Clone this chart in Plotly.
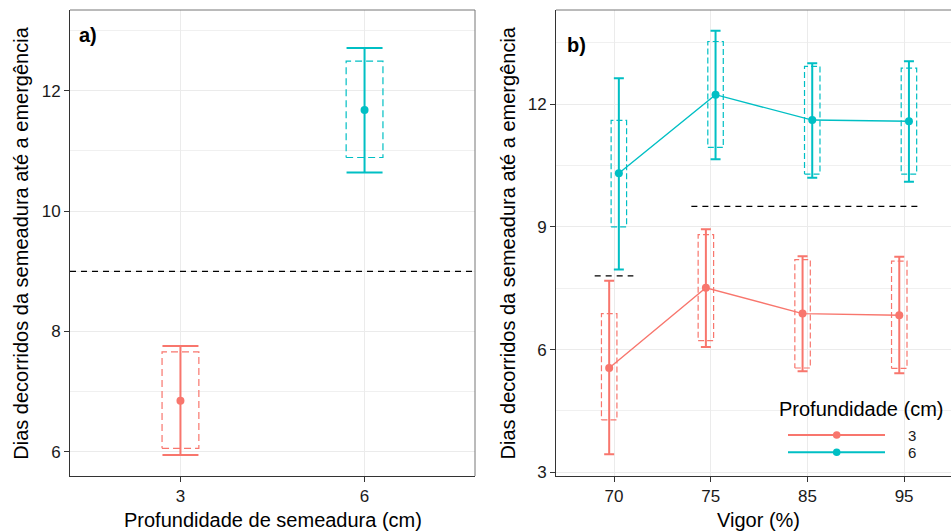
import plotly.graph_objects as go

# ---------------- data ----------------
# Panel a: depth effect
depth_labels = ["3", "6"]
a_mean = [6.85, 11.68]
a_err_hi = [7.76, 12.71]     # error bar upper
a_err_lo = [5.95, 10.64]     # error bar lower
a_box_hi = [7.66, 12.49]     # dashed box upper
a_box_lo = [6.06, 10.89]     # dashed box lower
a_ref_line = 9.0

# Panel b: vigor x depth
vigor_labels = ["70", "75", "85", "95"]
b3_mean = [5.55, 7.51, 6.88, 6.84]
b3_err_hi = [7.68, 8.94, 8.28, 8.27]
b3_err_lo = [3.44, 6.06, 5.47, 5.42]
b3_box_hi = [6.88, 8.81, 8.20, 8.16]
b3_box_lo = [4.28, 6.22, 5.55, 5.54]

b6_mean = [10.31, 12.23, 11.61, 11.58]
b6_err_hi = [12.63, 13.79, 13.00, 13.05]
b6_err_lo = [7.96, 10.65, 10.20, 10.10]
b6_box_hi = [11.60, 13.53, 12.92, 12.88]
b6_box_lo = [9.00, 10.94, 10.29, 10.29]

# significance dashed segments in panel b: (x start, x end, y) in category units
b_ref_segments = [(-0.2, 0.2, 7.8), (0.8, 3.15, 9.5)]

RED = "#F8766D"
CYAN = "#00BFC4"
FONT = "Liberation Sans"
W, H = 951, 531
MT, MB = 10, 55
PLOT_H = H - MT - MB


def px_x(p):
    return p / W


def px_y(p):
    return (H - MB - p) / PLOT_H


fig = go.Figure()


def add_boxes(xs, lo, hi, half, color, xaxis, yaxis, dash):
    for x, l, h in zip(xs, lo, hi):
        fig.add_trace(go.Scatter(
            x=[x - half, x + half, x + half, x - half, x - half],
            y=[l, l, h, h, l], mode="lines",
            line=dict(color=color, width=1.2, dash=dash),
            xaxis=xaxis, yaxis=yaxis, showlegend=False, hoverinfo="skip"))


# ---------------- panel a ----------------
xa = list(range(len(depth_labels)))
colors_a = [RED, CYAN]
for i in xa:
    add_boxes([xa[i]], [a_box_lo[i]], [a_box_hi[i]], 0.1, colors_a[i], "x", "y", "7px,4px")
for i in xa:
    fig.add_trace(go.Scatter(
        x=[xa[i]], y=[a_mean[i]], mode="markers",
        marker=dict(color=colors_a[i], size=8),
        error_y=dict(type="data", symmetric=False,
                     array=[a_err_hi[i] - a_mean[i]],
                     arrayminus=[a_mean[i] - a_err_lo[i]],
                     color=colors_a[i], thickness=2, width=18),
        xaxis="x", yaxis="y", showlegend=False))
fig.add_trace(go.Scatter(
    x=[-0.6, 1.6], y=[a_ref_line, a_ref_line], mode="lines",
    line=dict(color="black", width=1.2, dash="6px,5px"),
    xaxis="x", yaxis="y", showlegend=False, hoverinfo="skip"))

# ---------------- panel b ----------------
xb = list(range(len(vigor_labels)))
dodge = 0.05
x3 = [v - dodge for v in xb]
x6 = [v + dodge for v in xb]

add_boxes(x3, b3_box_lo, b3_box_hi, 0.08, RED, "x2", "y2", "6px,3px")
add_boxes(x6, b6_box_lo, b6_box_hi, 0.08, CYAN, "x2", "y2", "6px,3px")

for xs, m, hi, lo, c in [(x3, b3_mean, b3_err_hi, b3_err_lo, RED),
                         (x6, b6_mean, b6_err_hi, b6_err_lo, CYAN)]:
    fig.add_trace(go.Scatter(
        x=xs, y=m, mode="lines+markers",
        line=dict(color=c, width=1.4),
        marker=dict(color=c, size=8),
        error_y=dict(type="data", symmetric=False,
                     array=[h - v for h, v in zip(hi, m)],
                     arrayminus=[v - l for l, v in zip(lo, m)],
                     color=c, thickness=2, width=5),
        xaxis="x2", yaxis="y2", showlegend=False))

for x0, x1, yv in b_ref_segments:
    fig.add_trace(go.Scatter(
        x=[x0, x1], y=[yv, yv], mode="lines",
        line=dict(color="black", width=1.2, dash="6px,5px"),
        xaxis="x2", yaxis="y2", showlegend=False, hoverinfo="skip"))

# ---------------- axes ----------------
tickfont = dict(family=FONT, size=17, color="#1a1a1a")
common_x = dict(showgrid=True, gridcolor="#EBEBEB", gridwidth=1, zeroline=False,
                showline=True, linecolor="#333333", linewidth=1,
                ticks="outside", ticklen=5, tickcolor="#333333", tickfont=tickfont)
common_y = dict(common_x)

fig.update_layout(
    width=W, height=H,
    margin=dict(l=0, r=0, t=MT, b=MB),
    paper_bgcolor="white", plot_bgcolor="white",
    showlegend=False,
    xaxis=dict(domain=[px_x(70), px_x(475)], range=[-0.6, 1.6],
               tickmode="array", tickvals=xa, ticktext=depth_labels,
               anchor="y", **common_x),
    yaxis=dict(range=[5.60, 13.34], tickmode="array", tickvals=[6, 8, 10, 12],
               minor=dict(tickmode="array", tickvals=[7, 9, 11, 13], showgrid=True,
                          gridcolor="#F0F0F0", ticklen=0),
               anchor="x", **common_y),
    xaxis2=dict(domain=[px_x(556), 1.0], range=[-0.6, 3.485],
                tickmode="array", tickvals=xb, ticktext=vigor_labels,
                anchor="y2", **common_x),
    yaxis2=dict(range=[2.91, 14.3], tickmode="array", tickvals=[3, 6, 9, 12],
                minor=dict(tickmode="array", tickvals=[4.5, 7.5, 10.5, 13.5], showgrid=True,
                           gridcolor="#F0F0F0", ticklen=0),
                anchor="x2", **common_y),
)

shapes = []
# top/right borders of panel a, top border of panel b
shapes.append(dict(type="line", xref="x domain", yref="y domain", x0=0, x1=1, y0=1, y1=1,
                   line=dict(color="#777777", width=1)))
shapes.append(dict(type="line", xref="x domain", yref="y domain", x0=1, x1=1, y0=0, y1=1,
                   line=dict(color="#777777", width=1)))
shapes.append(dict(type="line", xref="x2 domain", yref="y2 domain", x0=0, x1=1, y0=1, y1=1,
                   line=dict(color="#777777", width=1)))
# legend background
shapes.append(dict(type="rect", xref="paper", yref="paper",
                   x0=px_x(765), x1=1.0, y0=px_y(466), y1=px_y(385),
                   fillcolor="white", line=dict(width=0), layer="between"))
# legend keys
for yy, c in [(435, RED), (452.3, CYAN)]:
    shapes.append(dict(type="line", xref="paper", yref="paper",
                       x0=px_x(788), x1=px_x(885), y0=px_y(yy), y1=px_y(yy),
                       line=dict(color=c, width=2)))
    shapes.append(dict(type="circle", xref="paper", yref="paper",
                       x0=px_x(836.7 - 3.8), x1=px_x(836.7 + 3.8),
                       y0=px_y(yy + 3.8), y1=px_y(yy - 3.8),
                       fillcolor=c, line=dict(color=c, width=0)))
fig.update_layout(shapes=shapes)

titlefont = dict(family=FONT, size=20, color="black")
ann = [
    dict(text="Dias decorridos da semeadura até a emergência", xref="paper", yref="paper",
         x=px_x(20.7), y=0.5, textangle=-90, showarrow=False, font=titlefont,
         xanchor="center", yanchor="middle"),
    dict(text="Dias decorridos da semeadura até a emergência", xref="paper", yref="paper",
         x=px_x(507.5), y=0.5, textangle=-90, showarrow=False, font=titlefont,
         xanchor="center", yanchor="middle"),
    dict(text="Profundidade de semeadura (cm)", xref="paper", yref="paper",
         x=px_x(272.5), y=px_y(520), showarrow=False, font=titlefont,
         xanchor="center", yanchor="middle"),
    dict(text="Vigor (%)", xref="paper", yref="paper",
         x=px_x(758.3), y=px_y(520), showarrow=False, font=titlefont,
         xanchor="center", yanchor="middle"),
    dict(text="<b>a)</b>", xref="paper", yref="paper", x=px_x(77), y=px_y(35),
         showarrow=False, font=dict(family=FONT, size=20, color="black"),
         xanchor="left", yanchor="middle"),
    dict(text="<b>b)</b>", xref="paper", yref="paper", x=px_x(565), y=px_y(45),
         showarrow=False, font=dict(family=FONT, size=20, color="black"),
         xanchor="left", yanchor="middle"),
    dict(text="Profundidade (cm)", xref="paper", yref="paper", x=px_x(777), y=px_y(409),
         showarrow=False, font=titlefont, xanchor="left", yanchor="middle"),
    dict(text="3", xref="paper", yref="paper", x=px_x(906), y=px_y(435),
         showarrow=False, font=dict(family=FONT, size=15, color="#1a1a1a"),
         xanchor="left", yanchor="middle"),
    dict(text="6", xref="paper", yref="paper", x=px_x(906), y=px_y(452.3),
         showarrow=False, font=dict(family=FONT, size=15, color="#1a1a1a"),
         xanchor="left", yanchor="middle"),
]
fig.update_layout(annotations=ann)

fig.write_html("out.html", config={"displayModeBar": False},
               post_script="document.body.style.margin='0';document.body.style.overflow='hidden';")
